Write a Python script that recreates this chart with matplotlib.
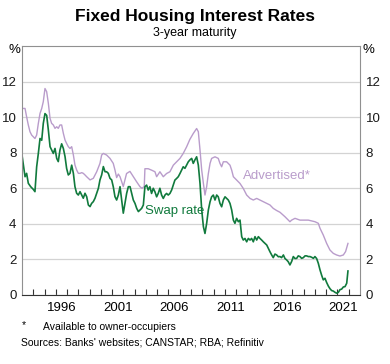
import matplotlib.pyplot as plt
import numpy as np

plt.rcParams['font.family'] = ['Liberation Sans', 'DejaVu Sans']

# 3-year swap rate (decimal years)
swap_years = [1993.0, 1993.27, 1993.41, 1993.56, 1993.77, 1994.0, 1994.15, 1994.3, 1994.45, 1994.6,
              1994.75, 1994.89, 1995.04, 1995.19, 1995.34, 1995.49, 1995.63, 1995.78, 1995.93, 1996.08,
              1996.22, 1996.37, 1996.52, 1996.67, 1996.82, 1996.96, 1997.11, 1997.26, 1997.41, 1997.56,
              1997.7, 1997.85, 1998.0, 1998.15, 1998.3, 1998.44, 1998.59, 1998.74, 1998.89, 1999.04,
              1999.18, 1999.33, 1999.48, 1999.63, 1999.78, 1999.92, 2000.07, 2000.22, 2000.37, 2000.51,
              2000.66, 2000.81, 2000.96, 2001.1, 2001.25, 2001.4, 2001.55, 2001.7, 2001.85, 2001.99,
              2002.14, 2002.29, 2002.44, 2002.59, 2002.73, 2002.88, 2003.03, 2003.18, 2003.33, 2003.47,
              2003.62, 2003.77, 2003.91, 2004.06, 2004.2, 2004.35, 2004.5, 2004.65, 2004.8, 2004.95,
              2005.09, 2005.24, 2005.39, 2005.54, 2005.69, 2005.83, 2005.98, 2006.13, 2006.28, 2006.43,
              2006.57, 2006.72, 2006.87, 2007.02, 2007.16, 2007.31, 2007.46, 2007.61, 2007.76, 2007.91,
              2008.06, 2008.2, 2008.35, 2008.5, 2008.65, 2008.8, 2008.95, 2009.1, 2009.24, 2009.39,
              2009.54, 2009.69, 2009.83, 2009.98, 2010.13, 2010.28, 2010.42, 2010.57, 2010.72, 2010.87,
              2011.02, 2011.16, 2011.31, 2011.46, 2011.61, 2011.76, 2011.9, 2012.05, 2012.2, 2012.35,
              2012.5, 2012.64, 2012.79, 2012.94, 2013.09, 2013.24, 2013.38, 2013.53, 2013.68, 2013.83,
              2013.98, 2014.12, 2014.27, 2014.42, 2014.57, 2014.72, 2014.86, 2015.01, 2015.16, 2015.3,
              2015.45, 2015.6, 2015.75, 2015.9, 2016.04, 2016.2, 2016.34, 2016.49, 2016.63, 2016.78,
              2016.93, 2017.08, 2017.23, 2017.38, 2017.52, 2017.67, 2017.82, 2017.97, 2018.12, 2018.26,
              2018.41, 2018.56, 2018.71, 2018.86, 2019.0, 2019.15, 2019.3, 2019.45, 2019.6, 2019.74,
              2019.89, 2020.04, 2020.19, 2020.34, 2020.48, 2020.63, 2020.78, 2020.93, 2021.08, 2021.22,
              2021.37, 2021.52, 2021.67, 2021.82, 2021.93]
swap_rate = [7.87, 6.65, 6.84, 6.28, 6.09, 5.94, 5.81, 7.2, 7.96, 8.8,
             8.7, 9.65, 10.2, 10.1, 9.27, 8.34, 8.15, 7.96, 8.24, 7.68,
             7.5, 8.15, 8.5, 8.24, 7.78, 7.12, 6.75, 6.84, 7.3, 6.84,
             6.09, 5.72, 5.62, 5.81, 5.62, 5.44, 5.72, 5.53, 5.06, 4.97,
             5.15, 5.25, 5.44, 5.72, 6.0, 6.47, 6.75, 7.22, 6.93, 6.93,
             6.84, 6.56, 6.47, 6.09, 5.53, 5.34, 5.62, 6.09, 5.34, 4.6,
             5.15, 5.72, 6.09, 6.09, 5.72, 5.34, 5.15, 4.87, 4.69, 4.78,
             4.87, 5.06, 6.09, 6.18, 5.9, 6.09, 5.71, 6.0, 5.8, 5.52,
             5.71, 6.0, 5.62, 5.43, 5.62, 5.71, 5.62, 5.71, 5.9, 6.18,
             6.46, 6.55, 6.65, 6.83, 7.02, 7.21, 7.12, 7.3, 7.49, 7.6,
             7.68, 7.4, 7.6, 7.77, 7.3, 6.27, 4.78, 3.84, 3.46, 4.03,
             4.78, 5.24, 5.52, 5.62, 5.34, 5.62, 5.52, 5.15, 4.96, 5.34,
             5.52, 5.43, 5.34, 5.15, 4.78, 4.21, 4.03, 4.31, 4.12, 4.21,
             3.28, 3.09, 3.18, 2.99, 3.18, 3.09, 3.18, 2.99, 3.28, 3.09,
             3.28, 3.18, 3.09, 2.99, 2.9, 2.81, 2.62, 2.43, 2.25, 2.1,
             2.3, 2.25, 2.15, 2.16, 2.1, 2.25, 2.05, 1.97, 1.87, 1.69,
             1.88, 2.16, 2.05, 2.06, 2.2, 2.16, 2.06, 2.1, 2.2, 2.2,
             2.16, 2.16, 2.12, 2.06, 2.16, 2.05, 1.78, 1.41, 1.1, 0.85,
             0.94, 0.7, 0.5, 0.35, 0.25, 0.22, 0.15, 0.1, 0.15, 0.3,
             0.33, 0.45, 0.47, 0.66, 1.35]

# advertised 3-year fixed rate for owner-occupiers
adv_years = [1993.0, 1993.27, 1993.41, 1993.56, 1993.71, 1993.86, 1994.0, 1994.15, 1994.3, 1994.45,
             1994.6, 1994.75, 1994.89, 1995.04, 1995.19, 1995.34, 1995.49, 1995.63, 1995.78, 1995.93,
             1996.08, 1996.22, 1996.37, 1996.52, 1996.67, 1996.82, 1996.96, 1997.11, 1997.26, 1997.41,
             1997.56, 1997.7, 1997.85, 1998.0, 1998.15, 1998.3, 1998.44, 1998.59, 1998.74, 1998.89,
             1999.04, 1999.33, 1999.63, 1999.92, 2000.07, 2000.22, 2000.51, 2000.81, 2001.1, 2001.25,
             2001.4, 2001.55, 2001.7, 2001.99, 2002.28, 2002.58, 2002.88, 2003.17, 2003.47, 2003.65,
             2003.85, 2003.91, 2004.2, 2004.5, 2004.8, 2004.95, 2005.24, 2005.54, 2005.83, 2006.13,
             2006.43, 2006.72, 2007.02, 2007.31, 2007.61, 2007.9, 2008.2, 2008.5, 2008.65, 2008.8,
             2008.95, 2009.1, 2009.24, 2009.39, 2009.54, 2009.69, 2009.83, 2010.13, 2010.42, 2010.57,
             2010.72, 2010.87, 2011.16, 2011.46, 2011.61, 2011.76, 2012.05, 2012.35, 2012.64, 2012.94,
             2013.24, 2013.53, 2013.83, 2014.12, 2014.42, 2014.72, 2015.01, 2015.3, 2015.6, 2015.9,
             2016.34, 2016.78, 2016.93, 2017.23, 2017.67, 2018.41, 2019.0, 2019.3, 2019.45, 2019.74,
             2020.04, 2020.33, 2020.63, 2020.92, 2021.22, 2021.52, 2021.72, 2021.93]
advertised = [10.49, 10.49, 10.02, 9.56, 9.18, 8.99, 8.9, 8.8, 8.99, 9.65,
              10.21, 10.49, 10.87, 11.61, 11.43, 10.77, 9.93, 9.65, 9.56, 9.37,
              9.46, 9.37, 9.56, 9.56, 9.09, 8.71, 8.52, 8.34, 8.24, 8.34,
              7.87, 7.31, 7.03, 6.84, 6.84, 6.88, 6.84, 6.75, 6.65, 6.56,
              6.47, 6.56, 6.93, 7.4, 7.87, 7.96, 7.87, 7.68, 7.4, 7.03,
              6.6, 6.8, 6.65, 6.1, 6.83, 6.95, 6.65, 6.37, 6.09, 6.0,
              6.1, 7.1, 7.1, 7.02, 6.93, 6.65, 6.93, 6.65, 6.83, 6.93,
              7.3, 7.49, 7.68, 7.96, 8.33, 8.75, 9.08, 9.36, 9.18, 8.15,
              7.02, 6.27, 5.62, 6.09, 6.83, 7.4, 7.68, 7.77, 7.68, 7.4,
              7.21, 7.49, 7.49, 7.3, 7.02, 6.65, 6.46, 6.27, 5.99, 5.62,
              5.43, 5.34, 5.43, 5.34, 5.24, 5.15, 5.06, 4.87, 4.75, 4.65,
              4.4, 4.12, 4.21, 4.31, 4.21, 4.21, 4.12, 4.03, 3.75, 3.37,
              2.9, 2.53, 2.34, 2.25, 2.19, 2.25, 2.44, 2.9]

label_years = [1996, 2001, 2006, 2011, 2016, 2021]
y_ticks = [0, 2, 4, 6, 8, 10, 12]

green = '#117a3d'
lilac = '#b99ccb'

fig = plt.figure(figsize=(3.9, 3.64), dpi=100)
ax = fig.add_axes([0.0564, 0.1896, 0.8667, 0.684])

ax.plot(adv_years, advertised, color=lilac, lw=1.0)
ax.plot(swap_years, swap_rate, color=green, lw=1.2)

ax.set_xlim(1993, 2023)
ax.set_ylim(0, 14)
ax.set_yticks(y_ticks)
ax.yaxis.grid(True, color='#d3d3d3', lw=0.9)
ax.set_axisbelow(True)
ax.tick_params(axis='y', length=0, labelsize=9.5, pad=4, labelright=True,
               colors='#1a1a1a')

# year ticks on the boundaries, labels centred on the year
ax.set_xticks(np.arange(1994, 2023), minor=True)
ax.set_xticks([y + 0.5 for y in label_years])
ax.set_xticklabels([str(y) for y in label_years])
ax.tick_params(axis='x', which='major', length=0, labelsize=9.5, pad=5)
ax.tick_params(axis='x', which='minor', direction='in', length=4, width=0.8, color='#333333')

for s in ['left', 'right', 'top']:
    ax.spines[s].set_color('#909090')
ax.spines['bottom'].set_color('#333333')

ax.text(2012.6, 6.7, 'Advertised*', color=lilac, fontsize=9.5, va='center')
ax.text(2003.9, 4.7, 'Swap rate', color=green, fontsize=9.5, va='center')

fig.text(0.5, 0.956, 'Fixed Housing Interest Rates', ha='center', va='center',
         fontsize=12.5, fontweight='bold')
fig.text(0.5, 0.909, '3-year maturity', ha='center', va='center', fontsize=9)
fig.text(0.036, 0.862, '%', ha='center', va='center', fontsize=9.5)
fig.text(0.944, 0.862, '%', ha='center', va='center', fontsize=9.5)

fig.text(0.06, 0.108, '*', ha='center', va='center', fontsize=7.5)
fig.text(0.11, 0.102, 'Available to owner-occupiers', va='center', fontsize=7.5)
fig.text(0.054, 0.058, "Sources: Banks' websites; CANSTAR; RBA; Refinitiv", va='center', fontsize=7.5)

fig.savefig('out.png', dpi=100)
